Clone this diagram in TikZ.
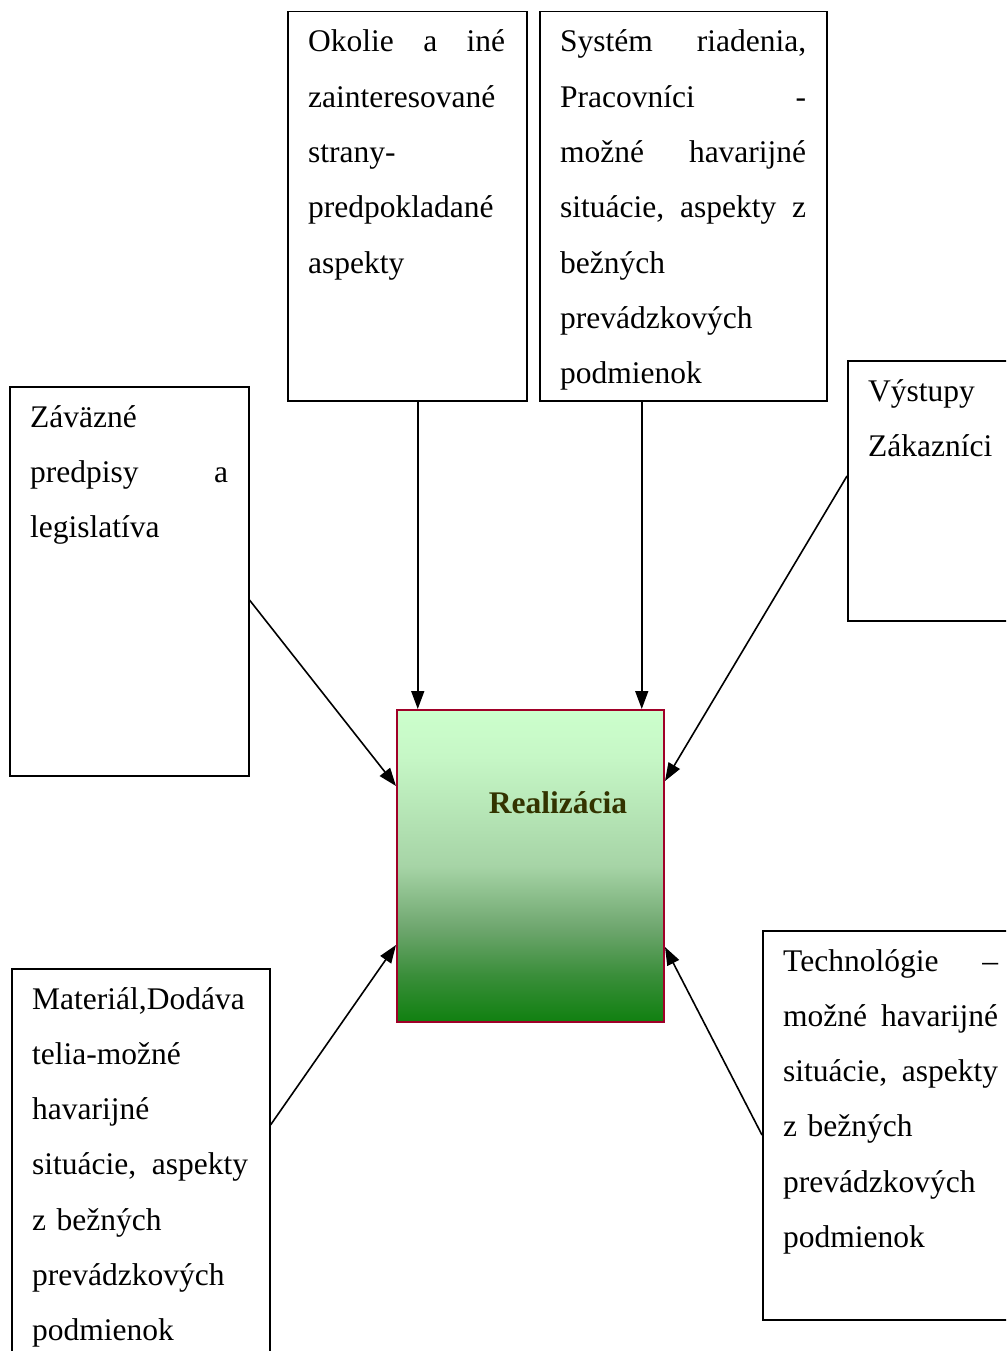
\documentclass[tikz,border=0pt]{standalone}
\usepackage{fontspec}
\setmainfont{Liberation Serif}
\usetikzlibrary{positioning}
\usetikzlibrary{arrows.meta}
\definecolor{lightgr}{HTML}{CCFFCC}
\definecolor{palegr}{HTML}{C6F7C6}
\definecolor{midgr}{HTML}{A6D4A6}
\definecolor{dullgr}{HTML}{6EA66E}
\definecolor{deepgr}{HTML}{3A8E3A}
\definecolor{darkgr}{HTML}{108010}
\definecolor{crimson}{RGB}{160,0,40}
\definecolor{olive}{RGB}{51,51,0}
\pgfdeclareverticalshading{realshade}{100bp}{color(0bp)=(darkgr); color(25bp)=(darkgr);
  color(32.5bp)=(deepgr); color(40bp)=(dullgr); color(50bp)=(midgr);
  color(67.5bp)=(palegr); color(75bp)=(lightgr); color(100bp)=(lightgr)}
\tikzset{
  box/.style={draw, line width=1.5pt, anchor=north west, inner sep=0pt},
  txt/.style={anchor=base west, inner sep=0pt, align=left, font=\fontsize{31.5}{55.3}\selectfont},
  realbox/.style={draw=crimson, line width=2pt, anchor=north west, inner sep=0pt,
    shading=realshade},
  arr/.style={line width=1.6pt, -{Triangle[length=18pt,width=13pt]}}
}
\begin{document}
\begin{tikzpicture}[x=1pt,y=1pt]
\useasboundingbox (0,0) rectangle (1006,-1351);
\clip (0,0) rectangle (1006,-1351);
% boxes
\node[box, minimum width=239pt, minimum height=389pt] (okolie) at (287,-11) {};
\node[box, minimum width=287pt, minimum height=389pt] (system) at (539,-11) {};
\node[box, minimum width=239pt, minimum height=389pt] (zavazne) at (9,-386) {};
\node[box, minimum width=200pt, minimum height=260pt] (vystupy) at (847,-360) {};
\node[box, minimum width=258pt, minimum height=420pt] (material) at (11,-968) {};
\node[box, minimum width=280pt, minimum height=389pt] (technologie) at (762,-930) {};
\node[realbox, minimum width=267pt, minimum height=312pt] (real) at (396,-709) {};
% texts
\node[txt, text width=197pt] (okolietxt) at ([xshift=21pt,yshift=-41pt]okolie.north west)
  {Okolie\hfill a\hfill iné\\zainteresované\\strany-\\predpokladané\\aspekty};
\node[txt, text width=246pt] (systemtxt) at ([xshift=21pt,yshift=-41pt]system.north west)
  {Systém\hfill riadenia,\\Pracovníci\hfill -\\možné\hfill havarijné\\situácie,\hfill aspekty\hfill z\\bežných\\prevádzkových\\podmienok};
\node[txt, text width=198pt] (zavaznetxt) at ([xshift=21pt,yshift=-41pt]zavazne.north west)
  {Záväzné\\predpisy\hfill a\\legislatíva};
\node[txt, text width=150pt] (vystupytxt) at ([xshift=21pt,yshift=-41pt]vystupy.north west)
  {Výstupy\\Zákazníci};
\node[txt, text width=216pt] (materialtxt) at ([xshift=21pt,yshift=-41pt]material.north west)
  {Materiál,Dodáva\\telia-možné\\havarijné\\situácie,\hfill aspekty\\z bežných\\prevádzkových\\podmienok};
\node[txt, text width=215pt] (technologietxt) at ([xshift=21pt,yshift=-41pt]technologie.north west)
  {Technológie\hfill –\\možné\hfill havarijné\\situácie,\hfill aspekty\\z bežných\\prevádzkových\\podmienok};
\node[font=\fontsize{31.5}{38}\selectfont\bfseries, text=olive] (reallbl) at (558,-803) {Realizácia};
% arrows
\draw[arr] ([xshift=10.5pt]okolie.south) -- ([xshift=10.5pt]okolie.south |- real.north);
\draw[arr] ([xshift=-41.5pt]system.south) -- ([xshift=-41.5pt]system.south |- real.north);
\draw[arr] ([yshift=-214pt]zavazne.north east) -- ([yshift=-77pt]real.north west);
\draw[arr] ([yshift=-116pt]vystupy.north west) -- ([yshift=-72pt]real.north east);
\draw[arr] ([yshift=-157pt]material.north east) -- ([yshift=78pt]real.south west);
\draw[arr] ([yshift=-205pt]technologie.north west) -- ([yshift=76pt]real.south east);
\end{tikzpicture}
\end{document}
